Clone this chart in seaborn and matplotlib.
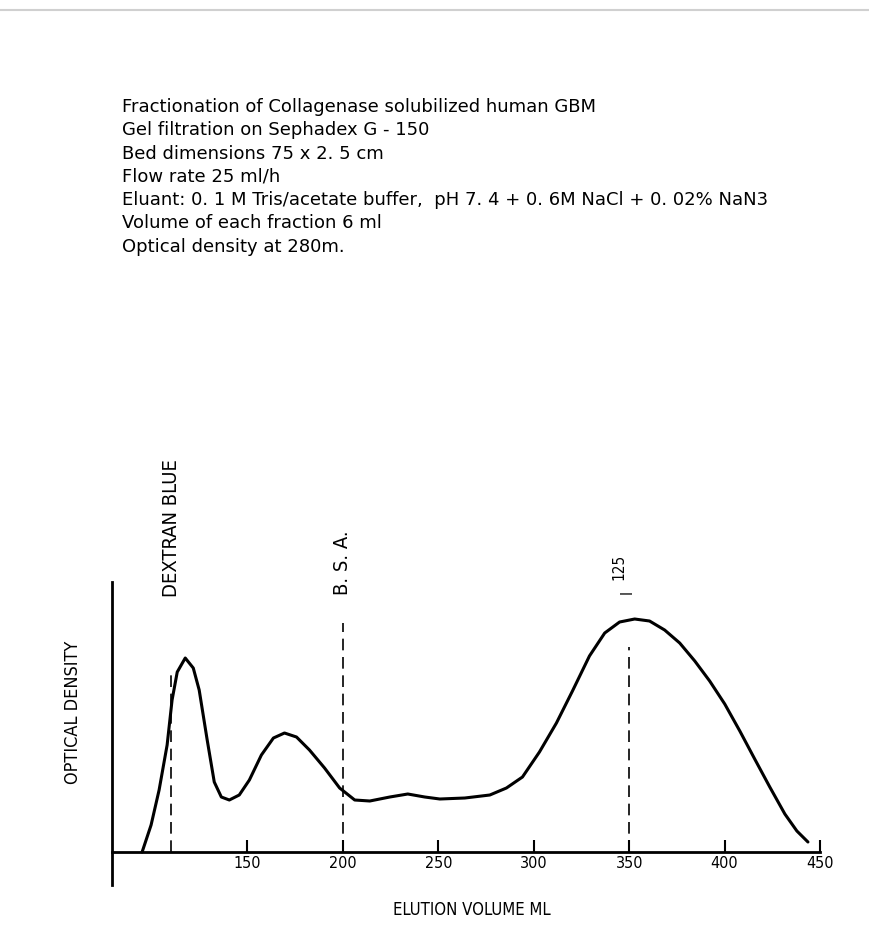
import matplotlib
matplotlib.use('Agg')
import matplotlib.pyplot as plt
import seaborn as sns
import pandas as pd
from matplotlib.lines import Line2D

# Elution profile (ml, relative optical density)
elution_ml = [94.8, 99.5, 103.7, 107.9, 110.5, 113.2, 117.4, 121.6, 124.7, 128.9,
              132.6, 136.3, 140.5, 145.7, 151.0, 157.3, 163.6, 169.4, 175.7, 182.5,
              190.4, 198.3, 206.2, 214.1, 224.6, 234.0, 242.9, 250.8, 263.9, 277.0,
              285.7, 294.1, 303.0, 311.9, 320.3, 329.2, 337.2, 345.0, 352.9, 360.7,
              368.6, 376.5, 384.4, 392.2, 400.1, 408.0, 415.8, 423.7, 431.6, 437.9,
              443.7]
optical_density = [0.0, 0.27, 0.62, 1.07, 1.52, 1.80, 1.94, 1.84, 1.62, 1.12,
                   0.70, 0.55, 0.52, 0.57, 0.72, 0.97, 1.14, 1.19, 1.15, 1.02,
                   0.84, 0.64, 0.52, 0.51, 0.55, 0.58, 0.55, 0.53, 0.54, 0.57,
                   0.64, 0.75, 1.00, 1.29, 1.61, 1.96, 2.19, 2.30, 2.33, 2.31,
                   2.22, 2.09, 1.91, 1.71, 1.48, 1.21, 0.93, 0.65, 0.38, 0.21,
                   0.10]

# calibration markers (dashed lines)
marker_names = ['DEXTRAN BLUE', 'B. S. A.', 'I']
marker_ml = [110.0, 200.0, 350.0]
marker_top = [1.80, 2.29, 2.05]
marker_label_od = [2.55, 2.57, 2.60]

tick_ml = [150, 200, 250, 300, 350, 400, 450]
tick_labels = ['150', '200', '250', '300', '350', '400', '450']

header_lines = [
    'Fractionation of Collagenase solubilized human GBM',
    'Gel filtration on Sephadex G - 150',
    'Bed dimensions 75 x 2. 5 cm',
    'Flow rate 25 ml/h',
    'Eluant: 0. 1 M Tris/acetate buffer,  pH 7. 4 + 0. 6M NaCl + 0. 02% NaN3',
    'Volume of each fraction 6 ml',
    'Optical density at 280m.',
]

sns.set_theme(style='white')
plt.rcParams['font.family'] = ['DejaVu Sans']
plt.rcParams['font.stretch'] = 'condensed'
plt.rcParams['text.color'] = 'black'
plt.rcParams['axes.labelcolor'] = 'black'
plt.rcParams['xtick.color'] = 'black'

df = pd.DataFrame({'ml': elution_ml, 'od': optical_density})

fig = plt.figure(figsize=(8.7, 9.51), dpi=100)
ax = fig.add_axes([0.1287, 0.0694, 0.8138, 0.3186])

sns.lineplot(data=df, x='ml', y='od', color='black', linewidth=2.2, ax=ax)
ax.vlines(marker_ml, 0, marker_top, colors='black', linewidth=1.2,
          linestyles=(0, (7, 4)))

# labels above the markers
ax.text(marker_ml[0], marker_label_od[0], marker_names[0], rotation=90,
        ha='center', va='bottom', fontsize=14.5)
ax.text(marker_ml[1], marker_label_od[1], marker_names[1], rotation=90,
        ha='center', va='bottom', fontsize=14.5)
ax.text(marker_ml[2] - 1.0, marker_label_od[2], marker_names[2], rotation=90,
        ha='center', va='center', fontsize=11)
ax.text(marker_ml[2] - 5.5, marker_label_od[2] + 0.12, '125', rotation=90,
        ha='center', va='bottom', fontsize=11)

ax.set_xlim(79, 450)
ax.set_ylim(-0.33, 2.70)
ax.set_xticks(tick_ml)
ax.set_xticklabels(tick_labels)
ax.set_yticks([])
ax.tick_params(axis='x', direction='in', length=9, width=1.5, pad=3,
               labelsize=11.5, bottom=True, colors='black')
for side in ['top', 'right']:
    ax.spines[side].set_visible(False)
ax.spines['bottom'].set_position(('data', 0))
ax.spines['bottom'].set_linewidth(2)
ax.spines['left'].set_linewidth(2)
ax.spines['bottom'].set_color('black')
ax.spines['left'].set_color('black')

ax.set_xlabel('ELUTION VOLUME ML', fontsize=12, va='center')
ax.xaxis.set_label_coords(0.508, -0.0825)
ax.set_ylabel('OPTICAL DENSITY', fontsize=13)
ax.yaxis.set_label_coords(-0.042, 0.571)

for i, line in enumerate(header_lines):
    fig.text(122 / 870, 1 - (107 + 23.3 * i) / 951, line, fontsize=13,
             fontstretch='normal', ha='left', va='center')

# faint scan edge at the top
fig.add_artist(Line2D([0, 1], [0.99, 0.99], color='#d0d0d0', linewidth=1.5))

fig.savefig('out.png', dpi=100, facecolor='white')
